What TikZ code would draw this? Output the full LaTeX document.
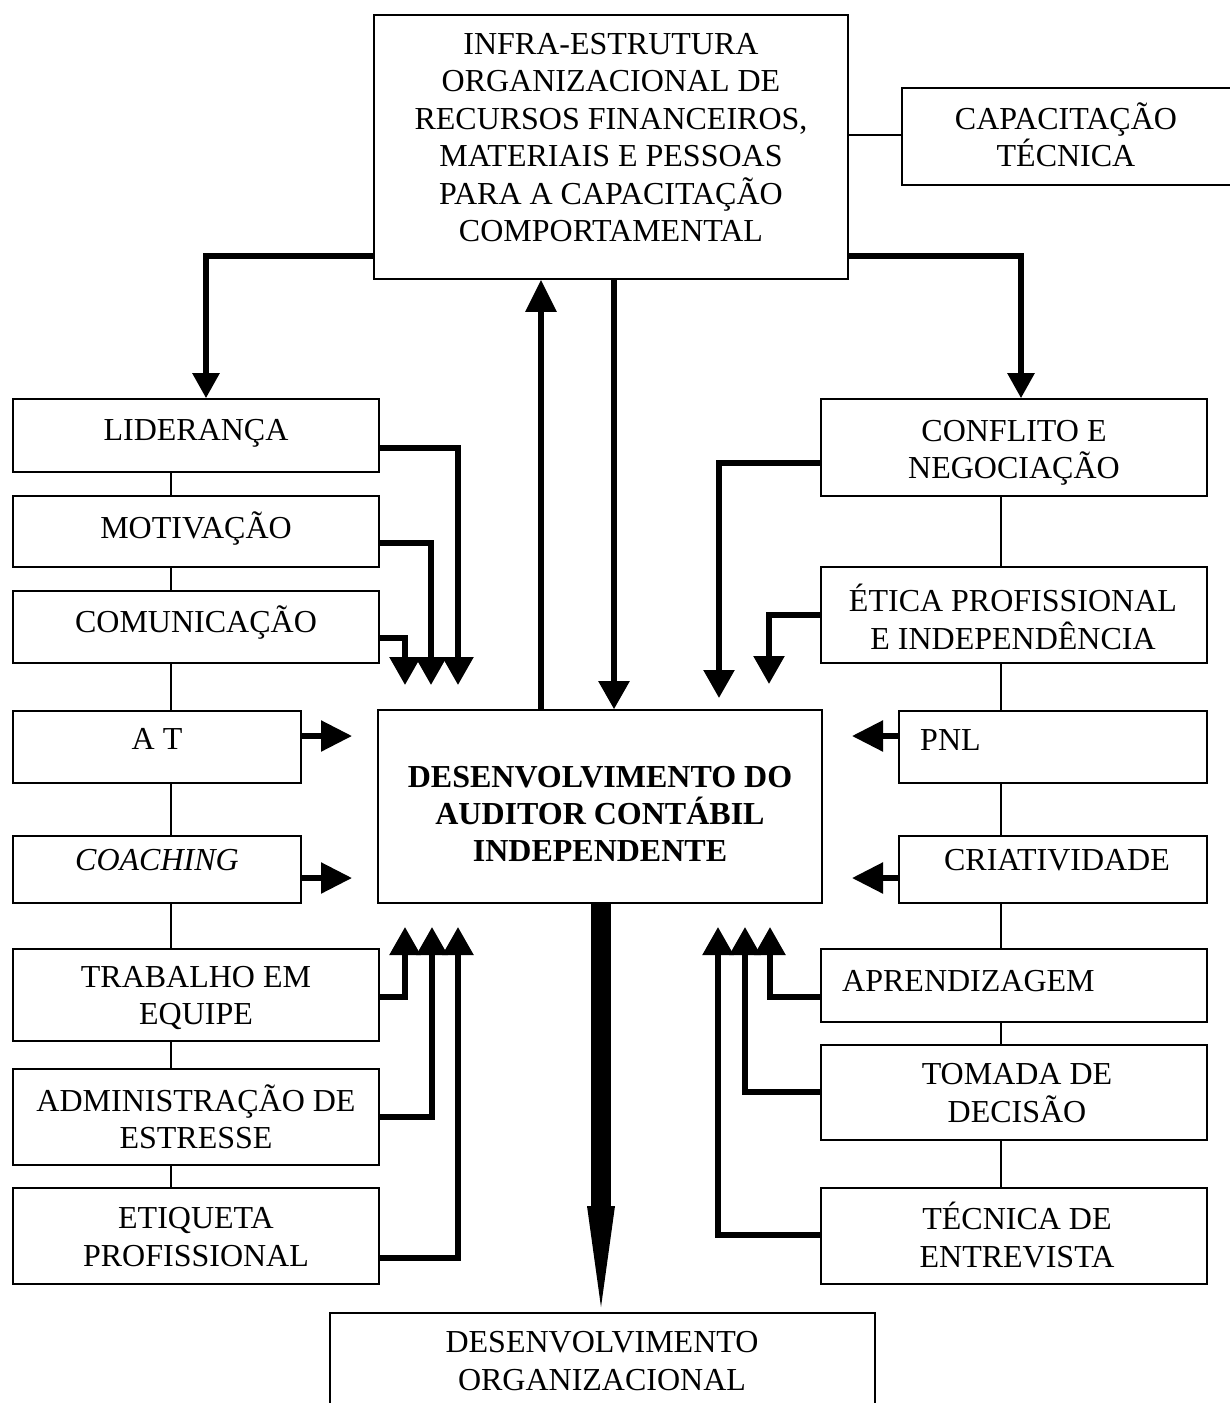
\documentclass[tikz,border=0pt]{standalone}
\usepackage{fontspec}
\setmainfont{Liberation Serif}
\usetikzlibrary{arrows.meta}
\newcommand\fsz{\fontsize{32pt}{37.4pt}\selectfont}
\newcommand\boxnode[5]{\node[box, minimum width={(#4-#2)*1pt}, minimum height={(#5-#3)*1pt}] (#1) at ({(#2+#4)/2},{(#3+#5)/2}) {};}
\tikzset{
  box/.style={draw, line width=1.6pt, inner sep=0pt},
  lbl/.style={align=center, inner sep=0pt, font=\fsz},
  link/.style={line width=1.6pt},
  conn/.style={line width=5.5pt, line join=miter, -{Triangle[length=28pt,width=30pt]}},
  connS/.style={line width=5.5pt, line join=miter, -{Triangle[length=25pt,width=26pt]}},
  connH/.style={line width=5.5pt, -{Triangle[length=31pt,width=30pt]}},
  connU/.style={line width=5.5pt, -{Triangle[length=32pt,width=30pt]}},
  bigshaft/.style={line width=20pt},
}
\begin{document}
\begin{tikzpicture}[x=1pt,y=-1pt]
\fill[white] (0,0) rectangle (1230,1403);
\useasboundingbox (0,0) rectangle (1230,1403);
% boxes
\boxnode{top}{374}{15}{848}{279}
\boxnode{cap}{902}{88}{1232}{185}
\boxnode{lid}{13}{399}{379}{472}
\boxnode{mot}{13}{496}{379}{567}
\boxnode{com}{13}{591}{379}{663}
\boxnode{at}{13}{711}{301}{783}
\boxnode{coa}{13}{836}{301}{903}
\boxnode{tra}{13}{949}{379}{1041}
\boxnode{adm}{13}{1069}{379}{1165}
\boxnode{etq}{13}{1188}{379}{1284}
\boxnode{con}{821}{399}{1207}{496}
\boxnode{eti}{821}{567}{1207}{663}
\boxnode{pnl}{899}{711}{1207}{783}
\boxnode{cri}{899}{836}{1207}{903}
\boxnode{apr}{821}{949}{1207}{1022}
\boxnode{tom}{821}{1045}{1207}{1140}
\boxnode{tec}{821}{1188}{1207}{1284}
\boxnode{cen}{378}{710}{822}{903}
\boxnode{bot}{330}{1313}{875}{1470}
% texts
\node[lbl] (ttop) at (611,137.5) {INFRA-ESTRUTURA\\ORGANIZACIONAL DE\\RECURSOS FINANCEIROS,\\MATERIAIS E PESSOAS\\PARA A CAPACITAÇÃO\\COMPORTAMENTAL};
\node[lbl] (tcap) at (1066,135) {CAPACITAÇÃO\\TÉCNICA};
\node[lbl] (tlid) at (196,433) {LIDERANÇA};
\node[lbl] (tmot) at (196,529) {MOTIVAÇÃO};
\node[lbl] (tcom) at (196,623) {COMUNICAÇÃO};
\node[lbl] (tat) at (157,739) {A T};
\node[lbl] (tcoa) at (157,860) {\itshape COACHING};
\node[lbl] (ttra) at (196,998) {TRABALHO EM\\EQUIPE};
\node[lbl] (tadm) at (196,1117) {ADMINISTRAÇÃO DE\\ESTRESSE};
\node[lbl] (tetq) at (196,1237) {ETIQUETA\\PROFISSIONAL};
\node[lbl] (tcon) at (1014,453) {CONFLITO E\\NEGOCIAÇÃO};
\node[lbl] (teti) at (1013,617) {ÉTICA PROFISSIONAL\\E INDEPENDÊNCIA};
\node[lbl, anchor=west] (tpnl) at (920,740) {PNL};
\node[lbl] (tcri) at (1057,860) {CRIATIVIDADE};
\node[lbl, anchor=west] (tapr) at (842,981) {APRENDIZAGEM};
\node[lbl] (ttom) at (1017,1093) {TOMADA DE\\DECISÃO};
\node[lbl] (ttec) at (1017,1235) {TÉCNICA DE\\ENTREVISTA};
\node[lbl, font=\fsz\bfseries] (tcen) at (600,814) {DESENVOLVIMENTO DO\\AUDITOR CONTÁBIL\\INDEPENDENTE};
\node[lbl] (tbot) at (602,1361) {DESENVOLVIMENTO\\ORGANIZACIONAL};
% thin links
\draw[link] (171,0 |- lid.south) -- (171,0 |- mot.north);
\draw[link] (171,0 |- mot.south) -- (171,0 |- com.north);
\draw[link] (171,0 |- com.south) -- (171,0 |- at.north);
\draw[link] (171,0 |- at.south) -- (171,0 |- coa.north);
\draw[link] (171,0 |- coa.south) -- (171,0 |- tra.north);
\draw[link] (171,0 |- tra.south) -- (171,0 |- adm.north);
\draw[link] (171,0 |- adm.south) -- (171,0 |- etq.north);
\draw[link] (1001,0 |- con.south) -- (1001,0 |- eti.north);
\draw[link] (1001,0 |- eti.south) -- (1001,0 |- pnl.north);
\draw[link] (1001,0 |- pnl.south) -- (1001,0 |- cri.north);
\draw[link] (1001,0 |- cri.south) -- (1001,0 |- apr.north);
\draw[link] (1001,0 |- apr.south) -- (1001,0 |- tom.north);
\draw[link] (1001,0 |- tom.south) -- (1001,0 |- tec.north);
\draw[link] (top.east |- 0,135) -- (cap.west |- 0,135);
% tip coordinates
\coordinate (hl1) at (458,685);
\coordinate (hl2) at (431,685);
\coordinate (hl3) at (405,685);
\coordinate (hr1) at (719,698);
\coordinate (hr2) at (769,684);
\coordinate (bl1) at (405,927);
\coordinate (bl2) at (432,927);
\coordinate (bl3) at (458,927);
\coordinate (br1) at (770,927);
\coordinate (br2) at (745,927);
\coordinate (br3) at (718,927);
\coordinate (ha1) at (352,736);
\coordinate (ha2) at (352,878);
\coordinate (hp1) at (852,736);
\coordinate (hp2) at (852,878);
\coordinate (bigbase) at (601,1206);
\coordinate (bigtip) at (601,1307);
% thick connectors
\draw[connS] (top.west |- 0,256) -| (206,0 |- lid.north);
\draw[connS] (top.east |- 0,256) -| (1021,0 |- con.north);
\draw[connU] (541,0 |- cen.north) -- (541,0 |- top.south);
\draw[conn] (614,0 |- top.south) -- (614,0 |- cen.north);
\draw[conn] (lid.east |- 0,448) -| (hl1);
\draw[conn] (mot.east |- 0,543) -| (hl2);
\draw[conn] (com.east |- 0,638) -| (hl3);
\draw[conn] (con.west |- 0,463) -| (hr1);
\draw[conn] (eti.west |- 0,615) -| (hr2);
\draw[conn] (tra.east |- 0,997) -| (bl1);
\draw[conn] (adm.east |- 0,1117) -| (bl2);
\draw[conn] (etq.east |- 0,1258) -| (bl3);
\draw[conn] (apr.west |- 0,997) -| (br1);
\draw[conn] (tom.west |- 0,1092) -| (br2);
\draw[conn] (tec.west |- 0,1235) -| (br3);
\draw[connH] (at.east |- 0,736) -- (ha1);
\draw[connH] (coa.east |- 0,878) -- (ha2);
\draw[connH] (pnl.west |- 0,736) -- (hp1);
\draw[connH] (cri.west |- 0,878) -- (hp2);
\draw[bigshaft] (601,0 |- cen.south) -- ([yshift=-1pt]bigbase);
\fill ([xshift=-14pt]bigbase) -- ([xshift=14pt]bigbase) -- (bigtip) -- cycle;
\end{tikzpicture}
\end{document}
